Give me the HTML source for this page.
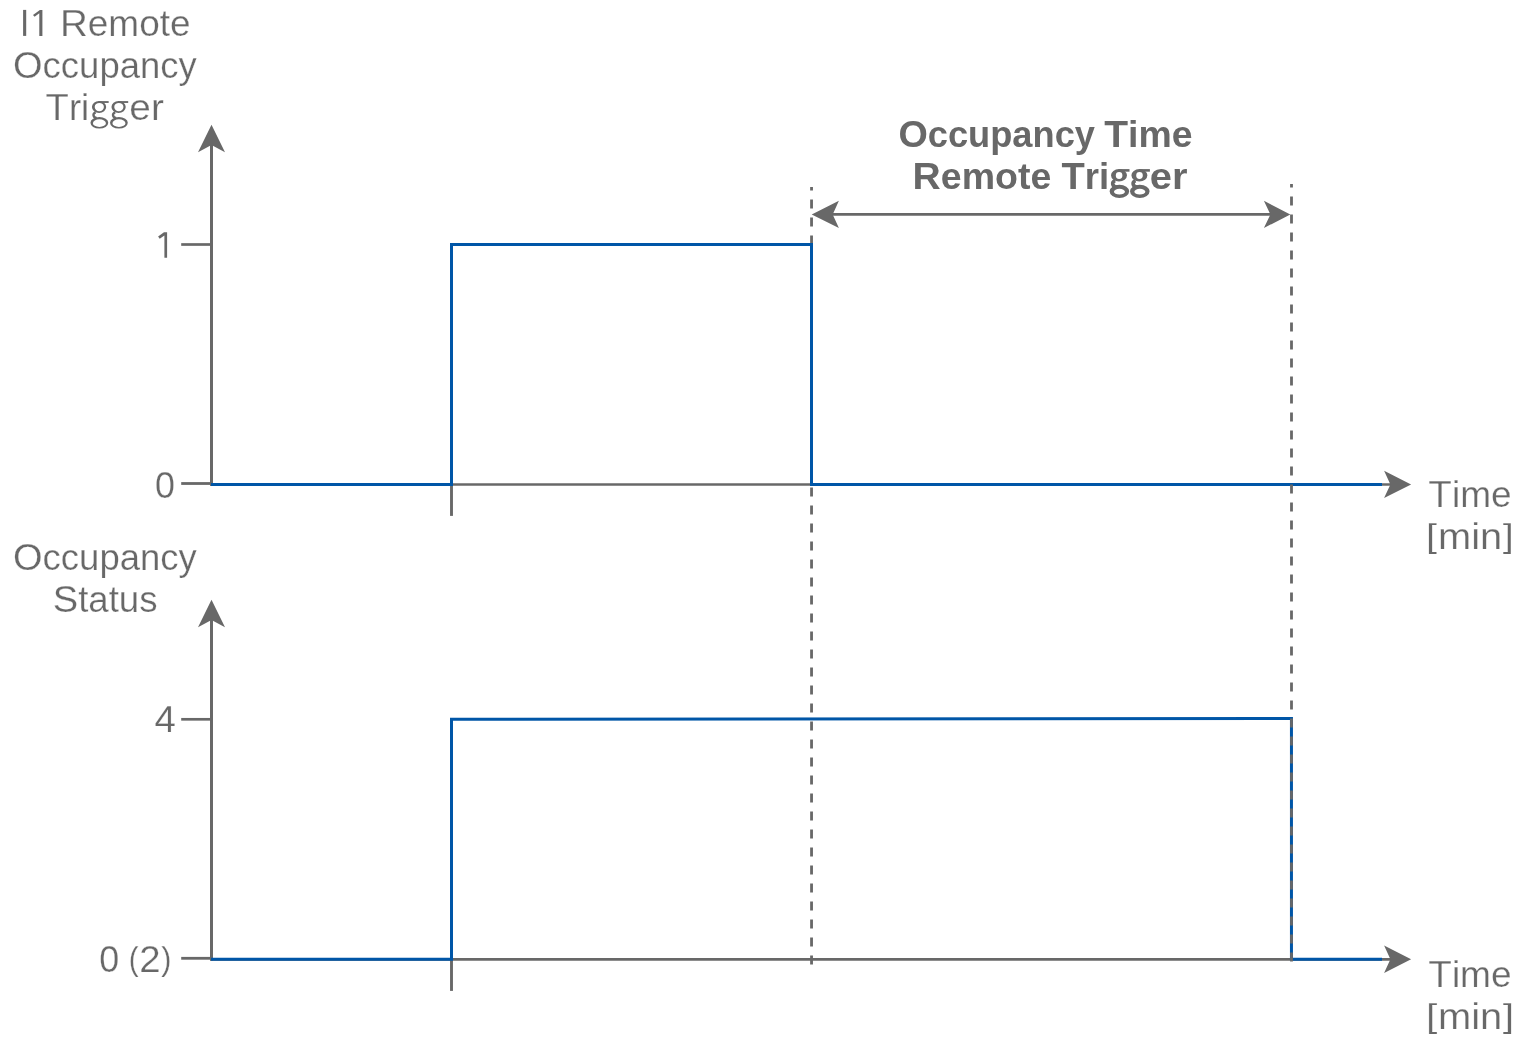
<!DOCTYPE html>
<html>
<head>
<meta charset="utf-8">
<style>
html,body{margin:0;padding:0;background:#fff;}
body{width:1533px;height:1038px;overflow:hidden;}
svg{display:block;will-change:transform;}
text{font-family:"Liberation Sans",sans-serif;fill:#686868;font-size:36px;}
.b{font-weight:bold;}
text:not(.b){stroke:#fff;stroke-width:0.25px;}
</style>
</head>
<body>
<svg width="1533" height="1038" viewBox="0 0 1533 1038">
<rect width="1533" height="1038" fill="#ffffff"/>

<!-- ===== TOP GRAPH ===== -->
<g fill="none" stroke="#686868">
  <!-- y axis -->
  <line x1="211.5" y1="140" x2="211.5" y2="485.8" stroke-width="3"/>
  <!-- ticks -->
  <line x1="181.2" y1="244.5" x2="211.5" y2="244.5" stroke-width="2.7"/>
  <line x1="181.2" y1="483.5" x2="211.5" y2="483.5" stroke-width="2.8"/>
  <!-- x axis -->
  <line x1="210" y1="484.5" x2="1392" y2="484.5" stroke-width="2.6"/>
  <!-- tick below -->
  <line x1="451.5" y1="484.5" x2="451.5" y2="515.9" stroke-width="2.9"/>
  <!-- dashed at 811 -->
  <line x1="811.55" y1="187" x2="811.55" y2="964.5" stroke-width="2.8" stroke-dasharray="9 9" stroke-dashoffset="5.5"/>
</g>
<g fill="#686868">
  <polygon points="211.5,124.7 198,152.2 211.5,144.9 225,152.2"/>
  <polygon points="1411.1,484.5 1384.1,470.8 1390.4,484.5 1384.1,497.9"/>
</g>
<path d="M211,484.5 H451.5 V244.5 H811.5 V484.5 H1382" fill="none" stroke="#0056a7" stroke-width="3"/>

<!-- ===== BOTTOM GRAPH ===== -->
<g fill="none" stroke="#686868">
  <line x1="211.5" y1="615" x2="211.5" y2="960.6" stroke-width="3"/>
  <line x1="181.2" y1="719.3" x2="211.5" y2="719.3" stroke-width="2.7"/>
  <line x1="181.2" y1="958.3" x2="211.5" y2="958.3" stroke-width="2.8"/>
  <line x1="210" y1="959.3" x2="1392" y2="959.3" stroke-width="2.8"/>
  <line x1="451.5" y1="959.3" x2="451.5" y2="990.9" stroke-width="2.9"/>
</g>
<g fill="#686868">
  <polygon points="211.5,599.7 198,627.2 211.5,619.9 225,627.2"/>
  <polygon points="1411.1,959.2 1384.1,945.5 1390.4,959.2 1384.1,972.9"/>
</g>
<path d="M211,959.3 H451.5 V719.35 L1291.45,718.45 V959.2 H1382" fill="none" stroke="#0056a7" stroke-width="3"/>

<!-- dashed at 1291 (on top) -->
<g fill="none" stroke="#686868">
  <line x1="1291.5" y1="184" x2="1291.5" y2="961.5" stroke-width="2.8" stroke-dasharray="9 9" stroke-dashoffset="5.5"/>
  <!-- double arrow shaft -->
  <line x1="830" y1="214.45" x2="1272" y2="214.45" stroke-width="2.7"/>
</g>
<g fill="#686868">
  <polygon points="811.7,214.45 838.9,200.8 832.7,214.45 838.9,228"/>
  <polygon points="1290.3,214.5 1263.9,200.8 1270.4,214.5 1263.9,228"/>
</g>

<!-- ===== TEXT ===== -->
<g fill="#686868">
<polygon points="167.1,232.3 167.1,257.8 164.4,257.8 164.4,235.4 159.7,238.8 158.1,236.6 164.0,232.3"/>
<rect x="23.1" y="9.9" width="3.1" height="26"/>
<polygon points="42.4,9.9 42.4,35.9 39.3,35.9 39.3,13.2 34.6,16.8 33.0,15.1 39.9,9.9"/>
</g>
<!-- GGEN -->
<g fill="#686868">
<path fill-rule="evenodd" d="M91.93,107.00a7.13,5.90 0 1,0 14.26,0a7.13,5.90 0 1,0 -14.26,0ZM94.70,107.05a4.60,4.15 0 1,0 9.20,0a4.60,4.15 0 1,0 -9.20,0Z"/>
<rect x="98.46" y="101.10" width="10.20" height="1.85"/>
<path fill-rule="evenodd" d="M90.46,122.85a8.90,5.75 0 1,0 17.80,0a8.90,5.75 0 1,0 -17.80,0ZM92.91,123.15a6.50,3.85 0 1,0 13.00,0a6.50,3.85 0 1,0 -13.00,0Z"/>
<path fill="none" stroke="#686868" stroke-width="2.3" d="M95.66,112.30C92.46,113.50 92.66,117.00 96.66,118.20"/>
<path fill-rule="evenodd" d="M111.47,107.00a7.13,5.90 0 1,0 14.26,0a7.13,5.90 0 1,0 -14.26,0ZM114.24,107.05a4.60,4.15 0 1,0 9.20,0a4.60,4.15 0 1,0 -9.20,0Z"/>
<rect x="118.00" y="101.10" width="10.20" height="1.85"/>
<path fill-rule="evenodd" d="M110.00,122.85a8.90,5.75 0 1,0 17.80,0a8.90,5.75 0 1,0 -17.80,0ZM112.45,123.15a6.50,3.85 0 1,0 13.00,0a6.50,3.85 0 1,0 -13.00,0Z"/>
<path fill="none" stroke="#686868" stroke-width="2.3" d="M115.20,112.30C112.00,113.50 112.20,117.00 116.20,118.20"/>
<path fill-rule="evenodd" d="M1111.00,175.30a8.00,6.20 0 1,0 16.00,0a8.00,6.20 0 1,0 -16.00,0ZM1115.80,175.45a3.30,3.45 0 1,0 6.60,0a3.30,3.45 0 1,0 -6.60,0Z"/>
<rect x="1118.60" y="169.10" width="10.90" height="2.6"/>
<path fill-rule="evenodd" d="M1109.60,191.30a9.80,6.60 0 1,0 19.60,0a9.80,6.60 0 1,0 -19.60,0ZM1113.95,191.65a5.50,2.85 0 1,0 11.00,0a5.50,2.85 0 1,0 -11.00,0Z"/>
<path fill="none" stroke="#686868" stroke-width="3.6" d="M1115.10,180.60C1111.50,182.20 1111.80,186.40 1116.80,187.20"/>
<path fill-rule="evenodd" d="M1131.40,175.30a8.00,6.20 0 1,0 16.00,0a8.00,6.20 0 1,0 -16.00,0ZM1136.20,175.45a3.30,3.45 0 1,0 6.60,0a3.30,3.45 0 1,0 -6.60,0Z"/>
<rect x="1139.00" y="169.10" width="10.90" height="2.6"/>
<path fill-rule="evenodd" d="M1130.00,191.30a9.80,6.60 0 1,0 19.60,0a9.80,6.60 0 1,0 -19.60,0ZM1134.35,191.65a5.50,2.85 0 1,0 11.00,0a5.50,2.85 0 1,0 -11.00,0Z"/>
<path fill="none" stroke="#686868" stroke-width="3.6" d="M1135.50,180.60C1131.90,182.20 1132.20,186.40 1137.20,187.20"/>
</g>
<!-- /GGEN -->
<!-- TEXTGEN -->
<text x="60.02" y="36.0" textLength="130.48" lengthAdjust="spacingAndGlyphs"><tspan style="font-size:37.5px">R</tspan>emote</text>
<text x="13.03" y="78.1" textLength="183.79" lengthAdjust="spacingAndGlyphs"><tspan style="font-size:37.5px">O</tspan>ccupancy</text>
<text x="45.60" y="119.9" textLength="43.67" lengthAdjust="spacingAndGlyphs"><tspan style="font-size:37.5px">T</tspan>ri</text>
<text x="129.38" y="119.9" textLength="34.47" lengthAdjust="spacingAndGlyphs">er</text>
<text x="13.03" y="570.0" textLength="183.79" lengthAdjust="spacingAndGlyphs"><tspan style="font-size:37.5px">O</tspan>ccupancy</text>
<text x="52.72" y="611.9" textLength="104.81" lengthAdjust="spacingAndGlyphs"><tspan style="font-size:37.5px">S</tspan>tatus</text>
<text x="155.07" y="497.5" textLength="19.93" lengthAdjust="spacingAndGlyphs"><tspan style="font-size:37.5px">0</tspan></text>
<text x="154.43" y="731.8" textLength="21.41" lengthAdjust="spacingAndGlyphs"><tspan style="font-size:37.5px">4</tspan></text>
<text x="99.27" y="971.6" textLength="19.93" lengthAdjust="spacingAndGlyphs"><tspan style="font-size:37.5px">0</tspan></text>
<text style="font-size:33px" x="128.72" y="970.3" textLength="9.81" lengthAdjust="spacingAndGlyphs">(</text>
<text x="139.25" y="971.6" textLength="21.35" lengthAdjust="spacingAndGlyphs"><tspan style="font-size:37.5px">2</tspan></text>
<text style="font-size:33px" x="161.27" y="970.3" textLength="10.18" lengthAdjust="spacingAndGlyphs">)</text>
<text x="1428.33" y="506.8" textLength="83.26" lengthAdjust="spacingAndGlyphs"><tspan style="font-size:37.5px">T</tspan>ime</text>
<text style="font-size:32.4px" x="1426.13" y="547.3" textLength="11.08" lengthAdjust="spacingAndGlyphs">[</text>
<text x="1438.03" y="548.7" textLength="64.17" lengthAdjust="spacingAndGlyphs">min</text>
<text style="font-size:32.4px" x="1502.89" y="547.3" textLength="11.08" lengthAdjust="spacingAndGlyphs">]</text>
<text x="1428.30" y="986.9" textLength="83.30" lengthAdjust="spacingAndGlyphs"><tspan style="font-size:37.5px">T</tspan>ime</text>
<text style="font-size:32.4px" x="1425.96" y="1027.3" textLength="11.35" lengthAdjust="spacingAndGlyphs">[</text>
<text x="1437.93" y="1028.8" textLength="64.28" lengthAdjust="spacingAndGlyphs">min</text>
<text style="font-size:32.4px" x="1502.78" y="1027.3" textLength="11.35" lengthAdjust="spacingAndGlyphs">]</text>
<text class="b" x="898.49" y="146.7" textLength="196.46" lengthAdjust="spacingAndGlyphs"><tspan style="font-size:37.5px">O</tspan>ccupancy</text>
<text class="b" x="1104.18" y="146.7" textLength="88.29" lengthAdjust="spacingAndGlyphs"><tspan style="font-size:37.5px">T</tspan>ime</text>
<text class="b" x="912.60" y="188.8" textLength="138.68" lengthAdjust="spacingAndGlyphs"><tspan style="font-size:37.5px">R</tspan>emote</text>
<text class="b" x="1061.59" y="188.8" textLength="47.68" lengthAdjust="spacingAndGlyphs"><tspan style="font-size:37.5px">T</tspan>ri</text>
<text class="b" x="1149.84" y="188.8" textLength="37.65" lengthAdjust="spacingAndGlyphs">er</text>
<!-- /TEXTGEN -->
</svg>
</body>
</html>
